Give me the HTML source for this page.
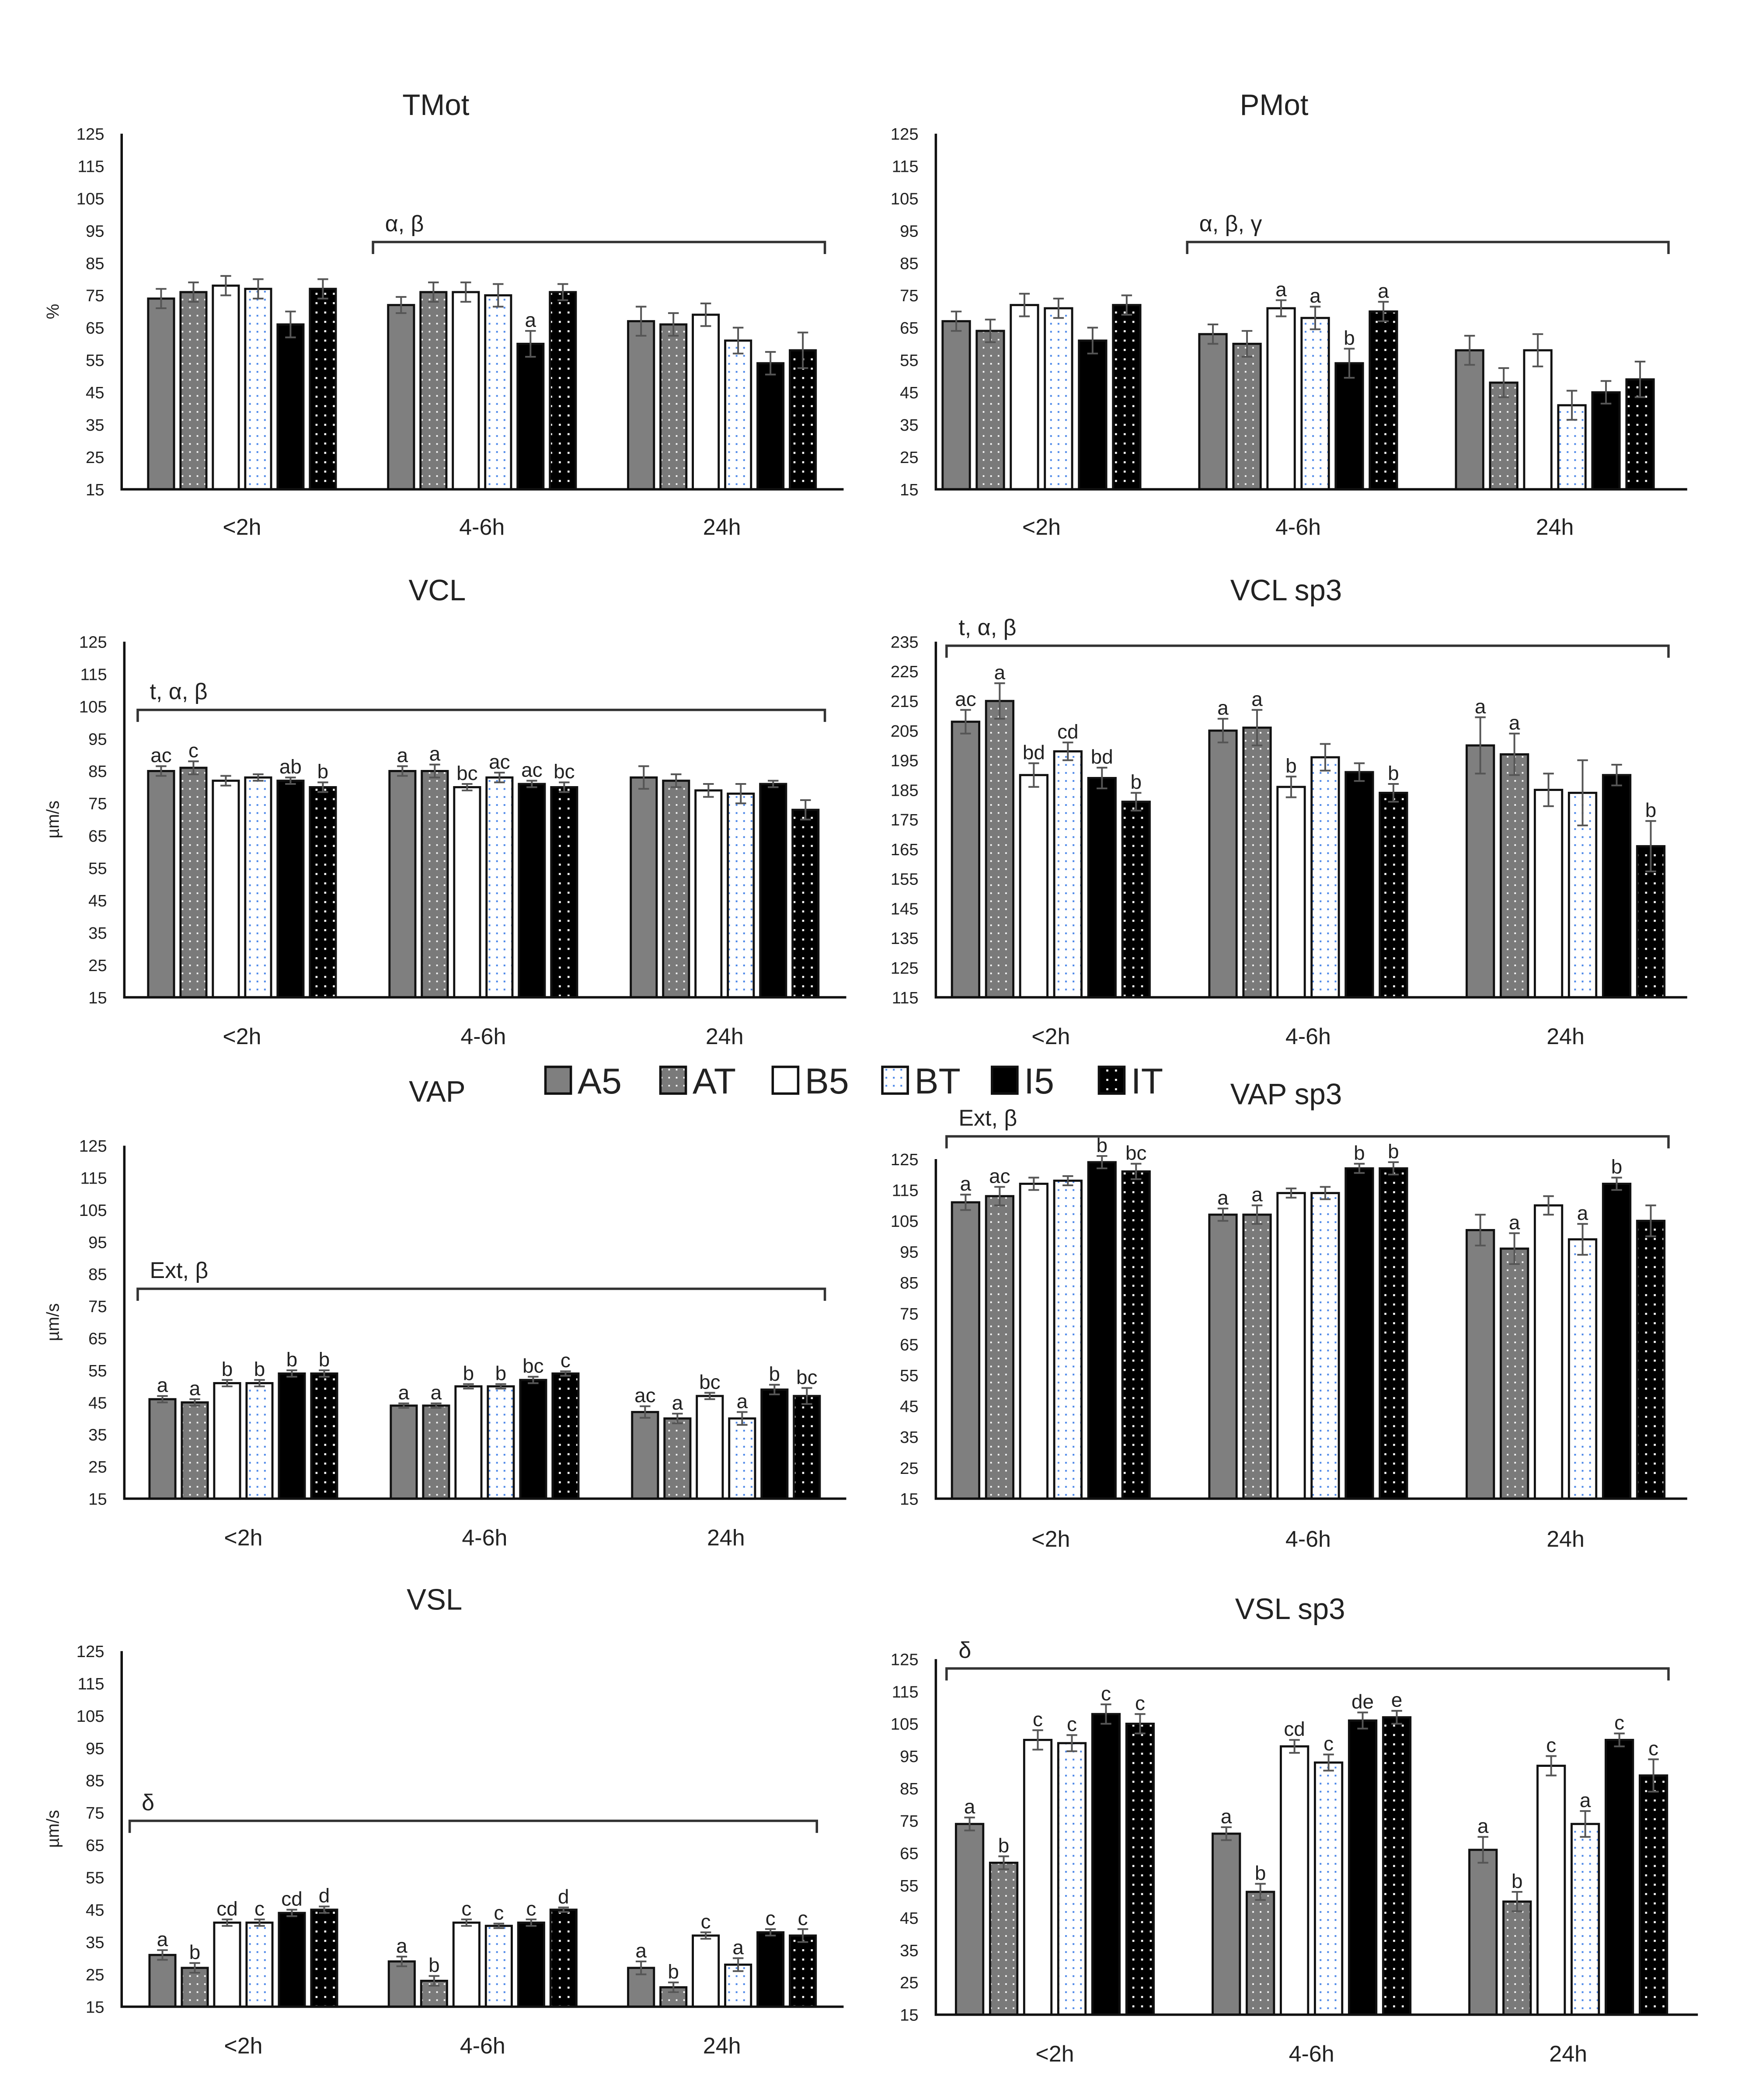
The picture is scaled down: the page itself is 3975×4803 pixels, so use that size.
<!DOCTYPE html>
<html><head><meta charset="utf-8">
<style>
html,body{margin:0;padding:0;background:#fff;}
svg{display:block;}
text{font-family:"Liberation Sans","DejaVu Sans",sans-serif;fill:#222;}
</style></head>
<body>
<svg id="fig" width="3975" height="4803" viewBox="0 0 1300 1570.8" preserveAspectRatio="none" xmlns="http://www.w3.org/2000/svg">
<defs>
<pattern id="patAT" width="5.6" height="6" patternUnits="userSpaceOnUse"><rect width="5.6" height="6" fill="#7a7a7a"/><rect x="1.5" y="1.5" width="1.2" height="1.2" fill="#fff"/></pattern>
<pattern id="patBT" width="5.6" height="6" patternUnits="userSpaceOnUse"><rect width="5.6" height="6" fill="#fff"/><rect x="1.5" y="1.5" width="1.3" height="1.3" fill="#4a86e8"/></pattern>
<pattern id="patIT" width="6.5" height="7" patternUnits="userSpaceOnUse"><rect width="6.5" height="7" fill="#000"/><rect x="2" y="2" width="1.5" height="1.5" fill="#fff"/></pattern>
</defs>
<g id="charts"></g>
<g id="legend"></g>
</svg>
<script>
const categories = ["<2h","4-6h","24h"];
const series = ["A5","AT","B5","BT","I5","IT"];
const tmotValues = [[74,76,78,77,66,77],[72,76,76,75,60,76],[67,66,69,61,54,58]];
const tmotErr = [[3,3,3,3,4,3],[2.5,3,3,3.5,4,2.5],[4.5,3.5,3.5,4,3.5,5.5]];
const tmotLabels = [["","","","","",""],["","","","","a",""],["","","","","",""]];
const pmotValues = [[67,64,72,71,61,72],[63,60,71,68,54,70],[58,48,58,41,45,49]];
const pmotErr = [[3,3.5,3.5,3,4,3],[3,4,2.5,3.5,4.5,3],[4.5,4.5,5,4.5,3.5,5.5]];
const pmotLabels = [["","","","","",""],["","","a","a","b","a"],["","","","","",""]];
const vclValues = [[85,86,82,83,82,80],[85,85,80,83,81,80],[83,82,79,78,81,73]];
const vclErr = [[1.5,2,1.5,1,1,1.5],[1.5,2,1,1.5,1,1.5],[3.5,2,2,3,1,3]];
const vclLabels = [["ac","c","","","ab","b"],["a","a","bc","ac","ac","bc"],["","","","","",""]];
const vclsp3Values = [[208,215,190,198,189,181],[205,206,186,196,191,184],[200,197,185,184,190,166]];
const vclsp3Err = [[4,6,4,3,3.5,3],[4,6,3.5,4.5,3,3],[9.5,7,5.5,11,3.5,8.5]];
const vclsp3Labels = [["ac","a","bd","cd","bd","b"],["a","a","b","","","b"],["a","a","","","","b"]];
const vapValues = [[46,45,51,51,54,54],[44,44,50,50,52,54],[42,40,47,40,49,47]];
const vapErr = [[1,1,1,1,1,1],[0.7,0.7,0.7,0.7,1,0.7],[1.8,1.5,1,2,1.5,2.5]];
const vapLabels = [["a","a","b","b","b","b"],["a","a","b","b","bc","c"],["ac","a","bc","a","b","bc"]];
const vapsp3Values = [[111,113,117,118,124,121],[107,107,114,114,122,122],[102,96,110,99,117,105]];
const vapsp3Err = [[2.5,3,2,1.5,2,2.5],[2,3,1.5,2,1.5,2],[5,5,3,5,2,5]];
const vapsp3Labels = [["a","ac","","","b","bc"],["a","a","","","b","b"],["","a","","a","b",""]];
const vslValues = [[31,27,41,41,44,45],[29,23,41,40,41,45],[27,21,37,28,38,37]];
const vslErr = [[1.5,1.5,1,1,1,1],[1.5,1.5,1,0.7,1,0.7],[2,1.5,1,2,1,2]];
const vslLabels = [["a","b","cd","c","cd","d"],["a","b","c","c","c","d"],["a","b","c","a","c","c"]];
const vslsp3Values = [[74,62,100,99,108,105],[71,53,98,93,106,107],[66,50,92,74,100,89]];
const vslsp3Err = [[2,2,3,2.5,3,3],[2,2.5,2,2.5,2.5,2],[4,3,3,4,2,5]];
const vslsp3Labels = [["a","b","c","c","c","c"],["a","b","cd","c","de","e"],["a","b","c","a","c","c"]];
const yTicks125 = [15,25,35,45,55,65,75,85,95,105,115,125];
const yTicksSp3 = [115,125,135,145,155,165,175,185,195,205,215,225,235];

const fills = ["#7f7f7f","url(#patAT)","#fff","url(#patBT)","#000","url(#patIT)"];
const NS = "http://www.w3.org/2000/svg";
function mk(tag, attrs, parent, txt){const e=document.createElementNS(NS,tag);for(const k in attrs)e.setAttribute(k,attrs[k]);if(txt!==undefined)e.textContent=txt;parent.appendChild(e);return e;}

const charts = [
 {id:"tmot",title:"TMot",tx:326,ty:86,x0:91,x1:631,c0:181,gw:179.5,step:24.2,yt:100,yb:366,ticks:yTicks125,vals:tmotValues,err:tmotErr,labs:tmotLabels,ylab:"%",ylx:40,br:[279,617,181],brl:"α, β",catY:400},
 {id:"pmot",title:"PMot",tx:953,ty:86,x0:700,x1:1262,c0:779,gw:192,step:25.5,yt:100,yb:366,ticks:yTicks125,vals:pmotValues,err:pmotErr,labs:pmotLabels,ylab:"",br:[888,1248,181],brl:"α, β, γ",catY:400},
 {id:"vcl",title:"VCL",tx:327,ty:449,x0:93,x1:633,c0:181,gw:180.5,step:24.2,yt:480,yb:746,ticks:yTicks125,vals:vclValues,err:vclErr,labs:vclLabels,ylab:"µm/s",ylx:40,br:[103,617,531],brl:"t, α, β",catY:781},
 {id:"vclsp3",title:"VCL sp3",tx:962,ty:449,x0:700,x1:1262,c0:786,gw:192.5,step:25.5,yt:480,yb:746,ticks:yTicksSp3,vals:vclsp3Values,err:vclsp3Err,labs:vclsp3Labels,ylab:"",br:[708,1248,483],brl:"t, α, β",catY:781},
 {id:"vap",title:"VAP",tx:327,ty:824,x0:93,x1:633,c0:182,gw:180.5,step:24.2,yt:857,yb:1121,ticks:yTicks125,vals:vapValues,err:vapErr,labs:vapLabels,ylab:"µm/s",ylx:40,br:[103,617,964],brl:"Ext, β",catY:1156},
 {id:"vapsp3",title:"VAP sp3",tx:962,ty:826,x0:700,x1:1262,c0:786,gw:192.5,step:25.5,yt:867,yb:1121,ticks:yTicks125,vals:vapsp3Values,err:vapsp3Err,labs:vapsp3Labels,ylab:"",br:[708,1248,850],brl:"Ext, β",catY:1157},
 {id:"vsl",title:"VSL",tx:325,ty:1204,x0:91,x1:631,c0:182,gw:179,step:24.2,yt:1235,yb:1501,ticks:yTicks125,vals:vslValues,err:vslErr,labs:vslLabels,ylab:"µm/s",ylx:40,br:[97,611,1362],brl:"δ",catY:1536},
 {id:"vslsp3",title:"VSL sp3",tx:965,ty:1211,x0:700,x1:1270,c0:789,gw:192,step:25.5,yt:1241,yb:1507,ticks:yTicks125,vals:vslsp3Values,err:vslsp3Err,labs:vslsp3Labels,ylab:"",br:[708,1248,1248],brl:"δ",catY:1542}
];
const root = document.getElementById("charts");
charts.forEach(c=>{
  const g = mk("g",{},root);
  
  
  const tmin=c.ticks[0], tmax=c.ticks[c.ticks.length-1];
  const y = v => c.yb - (v-tmin)/(tmax-tmin)*(c.yb-c.yt);
  const gw = c.gw;
  const step = c.step, bw = step*0.8;
  const gc = ci => c.c0 + gw*ci;
  const x = (ci,si) => gc(ci) + (si-2.5)*step;
  const t = mk("text",{x:c.tx,y:c.ty,"font-size":22,"text-anchor":"middle"},g,c.title);
  
  
  c.ticks.forEach(v=>{
    const tl = mk("text",{x:c.x0-13,y:y(v)+4.5,"font-size":12.5,"text-anchor":"end"},g,String(v));
    
    
  });
  if(c.ylab){
    const yl = mk("text",{x:0,y:0,"font-size":13,"text-anchor":"middle",transform:`translate(${c.ylx+4},${(c.yt+c.yb)/2}) rotate(-90)`},g,c.ylab);
    
    
  }
  c.vals.forEach((row,ci)=>{
    row.forEach((v,si)=>{
      const cx = x(ci,si);
      const r = mk("rect",{x:cx-bw/2,y:y(v),width:bw,height:c.yb-y(v),fill:fills[si],stroke:"#111","stroke-width":1.6},g);
      
      
      const e = c.err[ci][si];
      const eb = mk("path",{d:`M${cx},${y(v+e)}V${y(v-e)}M${cx-4},${y(v+e)}H${cx+4}M${cx-4},${y(v-e)}H${cx+4}`,stroke:"#555","stroke-width":1.3,fill:"none"},g);
      
      
      const lab = c.labs[ci][si];
      if(lab){
        const lt = mk("text",{x:cx,y:y(v+e)-3,"font-size":15,"text-anchor":"middle"},g,lab);
        
        
      }
    });
    const ct = mk("text",{x:gc(ci),y:c.catY,"font-size":17,"text-anchor":"middle"},g,categories[ci]);
    
    
  });
  const ax = mk("path",{d:`M${c.x0},${c.yt}V${c.yb}H${c.x1}`,stroke:"#111","stroke-width":1.8,fill:"none"},g);
  
  
  const [bx0,bx1,by]=c.br;
  const br = mk("path",{d:`M${bx0},${by+9}V${by}H${bx1}V${by+9}`,stroke:"#333","stroke-width":1.8,fill:"none"},g);
  
  
  const bl = mk("text",{x:bx0+9,y:by-8,"font-size":17},g,c.brl);
  
  
});
const legendX = [408,494,578,660,742,822];
const lg = document.getElementById("legend");
series.forEach((s,i)=>{
  const r = mk("rect",{x:legendX[i],y:798,width:19,height:20,fill:fills[i],stroke:"#111","stroke-width":1.8},lg);
  
  
  const t = mk("text",{x:legendX[i]+24,y:818,"font-size":27},lg,s);
  
  
});
</script>
</body></html>
